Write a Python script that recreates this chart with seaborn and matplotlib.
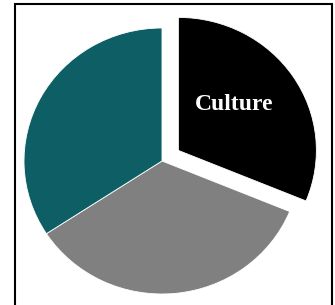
import matplotlib
matplotlib.use("Agg")
import matplotlib.pyplot as plt
import seaborn as sns
from matplotlib.patches import Rectangle

categories = ["Culture", "Other A", "Other B"]
values = [31.2, 34.6, 34.2]
colors = ["#000000", "#808080", "#0e5e66"]

sns.set_theme(style="white")
plt.rcParams['font.family'] = ['Liberation Serif', 'DejaVu Serif']

W, H = 335, 305
fig = plt.figure(figsize=(W / 100, H / 100), dpi=100)
fig.patch.set_facecolor("white")
ax = fig.add_axes([0, 0, 1, 1])

# slightly wider than tall, as in the reference
rx, ry = 138, 133
s = ry / rx
cx, cy = 162, 161
explode = [19, 0, 0]
ax.pie(values, colors=colors, explode=explode, startangle=90,
       counterclock=False, center=(cx * s, H - cy), radius=ry, frame=True,
       wedgeprops=dict(edgecolor="white", linewidth=0.6))
ax.set_xlim(0, W * s)
ax.set_ylim(0, H)
ax.set_aspect("auto")
ax.axis("off")

fig.text(234 / W, 1 - 104 / H, categories[0], color="white", fontsize=17,
         fontweight="bold", ha="center", va="center")

fig.patches.append(Rectangle((15 / W, -0.05), (332 - 15) / W, 1.05 - 4 / H,
                             transform=fig.transFigure, fill=False,
                             edgecolor="black", linewidth=1.5))

fig.savefig("out.png", dpi=100, facecolor="white")
